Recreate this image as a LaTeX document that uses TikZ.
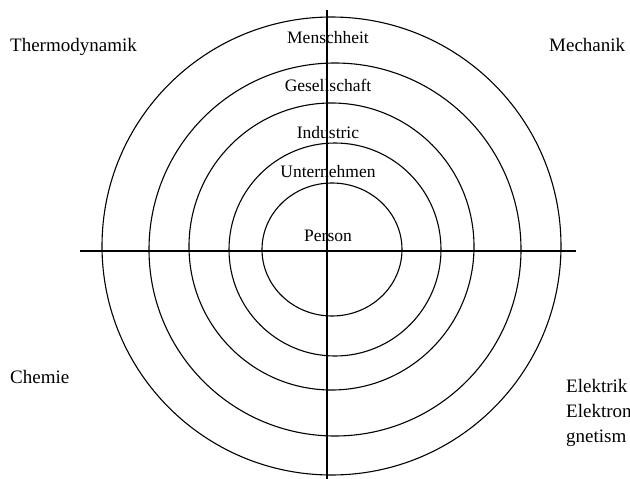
\documentclass[tikz,border=0pt]{standalone}
\usepackage{fontspec}
\setmainfont{Liberation Serif}
\begin{document}
\begin{tikzpicture}[x=1pt,y=-1pt,
  ring/.style={draw=black,line width=1.1pt},
  axis/.style={draw=black,line width=1.6pt},
  ringlabel/.style={anchor=base,inner sep=0pt,font=\fontsize{17.5}{20}\selectfont},
  cornerlabel/.style={anchor=base west,inner sep=0pt,font=\fontsize{19}{24}\selectfont,align=left}]
\useasboundingbox (0,0) rectangle (630,479);
\clip (0,0) rectangle (630,479);
% labels
\node[ringlabel] (l1) at (328,43) {Menschheit};
\node[ringlabel] (l2) at (328,91) {Gesellschaft};
\node[ringlabel] (l3) at (328,138) {Industric};
\node[ringlabel] (l4) at (328,177) {Unternehmen};
\node[ringlabel] (l5) at (328,241) {Person};
\node[cornerlabel] (thermo) at (10,52) {Thermodynamik};
\node[cornerlabel] (mech) at (549,52) {Mechanik};
\node[cornerlabel] (chem) at (10,383) {Chemie};
\node[cornerlabel] (el1) at (566,392) {Elektrik};
\node[cornerlabel] (el2) at (566,417) {Elektron};
\node[cornerlabel] (el3) at (566,442) {gnetism};
% rings
\draw[ring] (331.5,246) ellipse [x radius=229.5, y radius=229];
\draw[ring] (335,249.5) ellipse [x radius=186, y radius=186.5];
\draw[ring] (331.5,246.5) ellipse [x radius=142.5, y radius=143.5];
\draw[ring] (335,249.5) ellipse [x radius=106, y radius=106.5];
\draw[ring] (332,249.5) ellipse [x radius=70, y radius=66.5];
% axes
\coordinate (top) at (327,10);
\coordinate (bottom) at (327,479);
\coordinate (left) at (80,251);
\coordinate (right) at (576,251);
\draw[axis] (top) -- (bottom);
\draw[axis] (left) -- (right);
\end{tikzpicture}
\end{document}
